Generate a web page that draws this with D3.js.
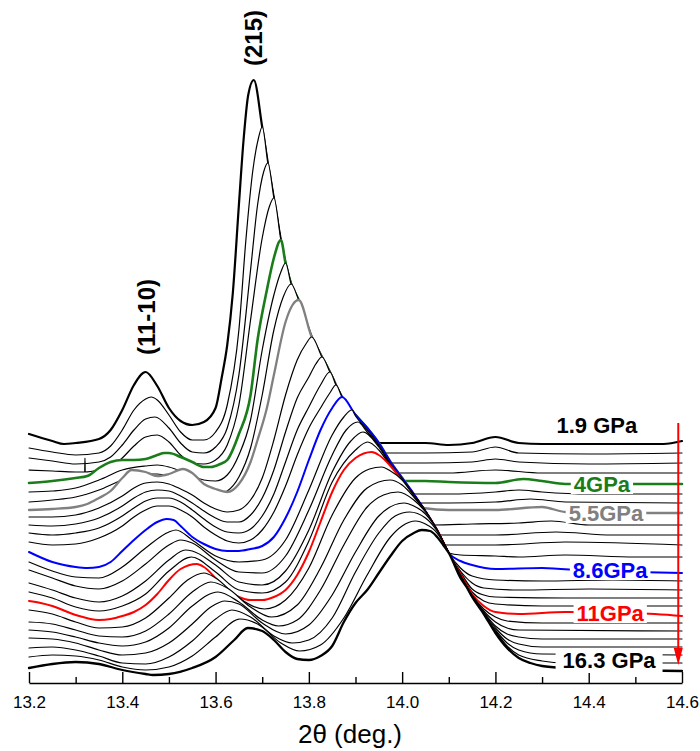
<!DOCTYPE html>
<html><head><meta charset="utf-8">
<script src="https://cdn.jsdelivr.net/npm/d3@7"></script>
<style>body{margin:0;background:#fff;} svg{display:block;} text{font-family:"Liberation Sans", Arial, sans-serif;}</style>
</head><body>
<svg id="chart" width="700" height="751"></svg>
<script>
// ---- axis ticks ----
const majorTicks = [13.2, 13.4, 13.6, 13.8, 14.0, 14.2, 14.4, 14.6];
const tickLabels = ["13.2", "13.4", "13.6", "13.8", "14.0", "14.2", "14.4", "14.6"];
const minorTicks = [13.3, 13.5, 13.7, 13.9, 14.1, 14.3, 14.5];

// ---- shared right flank of the (215) peak (2theta, stacked intensity a.u.) ----
const flank = [[13.682,603],[13.700,556],[13.712,520],[13.725,485],[13.740,443],[13.750,420],[13.762,399],[13.778,383],[13.806,346],[13.828,326],[13.845,311],[13.858,298],[13.871,286],[13.900,268],[13.925,255],[13.950,240],[13.975,221],[14.000,205],[14.025,189],[14.050,172],[14.075,153],[14.100,130]];

// ---- upper patterns: left part (up to their peak) and right tail ----
const c0Left = [[13.200,249],[13.250,242],[13.275,239],[13.300,240],[13.350,244],[13.375,253],[13.400,273],[13.425,298],[13.450,311],[13.475,297],[13.500,275],[13.525,262],[13.550,258],[13.575,261],[13.600,275],[13.613,305],[13.625,338],[13.637,390],[13.650,478],[13.660,543],[13.670,588],[13.682,603]];
const c0Tail = [[13.955,240],[14.050,240],[14.100,238],[14.150,240],[14.200,246],[14.250,240],[14.300,239],[14.400,239],[14.500,239],[14.560,239],[14.600,242]];
const c1Left = [[13.200,235],[13.250,231],[13.300,228],[13.350,230],[13.375,237],[13.400,253],[13.425,273],[13.450,284],[13.462,286],[13.475,283],[13.500,268],[13.525,251],[13.550,243],[13.575,243],[13.600,251],[13.625,278],[13.650,353],[13.665,443],[13.680,513],[13.692,545],[13.700,556]];
const c1Tail = [[13.963,230],[14.050,230],[14.150,231],[14.200,236],[14.250,230],[14.400,229],[14.600,230]];
const c2Left = [[13.200,225],[13.250,222],[13.300,219],[13.350,221],[13.375,226],[13.400,238],[13.425,253],[13.450,264],[13.470,266],[13.500,255],[13.525,240],[13.550,231],[13.575,230],[13.600,236],[13.625,255],[13.650,308],[13.675,413],[13.690,478],[13.703,511],[13.712,520]];
const c2Tail = [[13.980,220],[14.050,220],[14.150,221],[14.200,224],[14.250,221],[14.400,219],[14.600,220]];
const c3Left = [[13.200,213],[13.250,212],[13.300,211],[13.3195,211],[13.3200,225],[13.3205,211],[13.350,213],[13.375,216],[13.400,225],[13.425,237],[13.450,246],[13.475,248],[13.500,241],[13.525,228],[13.550,220],[13.575,219],[13.600,223],[13.625,238],[13.650,278],[13.675,363],[13.700,445],[13.715,476],[13.725,485]];
const c3Tail = [[13.992,210],[14.100,210],[14.200,213],[14.300,210],[14.600,210]];
const c4Left = [[13.200,200],[13.250,202],[13.300,205],[13.325,207],[13.350,215],[13.375,221],[13.400,223],[13.425,223],[13.450,224],[13.475,228],[13.490,230],[13.500,230],[13.525,226],[13.550,221],[13.575,216],[13.590,216],[13.610,219],[13.625,223],[13.650,249],[13.675,288],[13.690,343],[13.710,393],[13.725,425],[13.740,443]];
const c4Tail = [[14.005,202],[14.050,202],[14.100,201],[14.200,200],[14.260,204],[14.300,202],[14.350,199],[14.600,199]];
const c5Left = [[13.200,191],[13.250,192],[13.300,195],[13.350,203],[13.400,213],[13.450,217],[13.475,218],[13.500,216],[13.525,212],[13.550,207],[13.575,203],[13.600,202],[13.625,208],[13.650,228],[13.675,263],[13.700,333],[13.725,388],[13.740,411],[13.750,420]];
const c5Tail = [[14.030,189],[14.100,189],[14.200,191],[14.250,193],[14.300,191],[14.400,189],[14.600,189]];
const c6Left = [[13.200,181],[13.250,183],[13.300,186],[13.350,193],[13.400,203],[13.450,209],[13.475,209],[13.500,206],[13.525,201],[13.550,195],[13.575,190],[13.600,188],[13.625,192],[13.650,206],[13.675,235],[13.700,288],[13.725,353],[13.745,386],[13.762,399]];
const c6Tail = [[14.040,180],[14.100,180],[14.200,181],[14.275,184],[14.350,181],[14.600,180]];
const c7Left = [[13.200,173],[13.250,174],[13.300,176],[13.325,179],[13.350,185],[13.375,192],[13.400,205],[13.420,213],[13.450,211],[13.475,207],[13.500,209],[13.530,214],[13.550,210],[13.575,199],[13.600,194],[13.625,191],[13.650,199],[13.675,221],[13.690,243],[13.710,275],[13.725,308],[13.750,361],[13.765,378],[13.778,383]];
const c7Tail = [[14.045,175],[14.100,173],[14.200,173],[14.300,176],[14.350,171],[14.450,170],[14.600,170]];
const c8Left = [[13.200,166],[13.250,166],[13.300,168],[13.350,175],[13.400,187],[13.425,195],[13.450,200],[13.475,201],[13.500,199],[13.525,194],[13.550,188],[13.575,180],[13.600,174],[13.625,171],[13.650,173],[13.675,183],[13.700,205],[13.725,243],[13.750,288],[13.775,323],[13.795,340],[13.806,346]];
const c8Tail = [[14.068,158],[14.150,159],[14.250,160],[14.320,162],[14.400,158],[14.600,158]];
const c9Left = [[13.200,158],[13.250,157],[13.300,159],[13.350,165],[13.400,177],[13.425,185],[13.450,191],[13.475,193],[13.500,192],[13.525,187],[13.550,180],[13.575,172],[13.600,165],[13.625,161],[13.650,161],[13.675,168],[13.700,185],[13.725,213],[13.750,251],[13.775,285],[13.800,306],[13.815,319],[13.828,326]];
const c9Tail = [[14.081,148],[14.200,148],[14.330,151],[14.450,148],[14.600,148]];
const c10Left = [[13.200,150],[13.250,148],[13.300,150],[13.350,155],[13.400,167],[13.425,175],[13.450,182],[13.475,185],[13.500,185],[13.525,181],[13.550,173],[13.575,164],[13.600,156],[13.625,151],[13.650,150],[13.675,154],[13.700,167],[13.725,189],[13.750,221],[13.775,253],[13.800,276],[13.825,298],[13.845,311]];
const c10Tail = [[14.092,138],[14.200,138],[14.350,141],[14.600,138]];
const c11Left = [[13.200,141],[13.250,138],[13.300,139],[13.350,145],[13.400,157],[13.425,166],[13.450,173],[13.475,177],[13.500,177],[13.525,173],[13.550,166],[13.575,156],[13.600,148],[13.625,142],[13.650,140],[13.675,143],[13.700,153],[13.725,171],[13.750,197],[13.775,228],[13.800,255],[13.825,275],[13.845,290],[13.858,298]];
const c11Tail = [[14.125,128],[14.200,127],[14.250,126],[14.350,128],[14.500,126],[14.600,126]];
const c12Left = [[13.200,131],[13.250,121],[13.275,118],[13.300,116],[13.325,115],[13.350,116],[13.375,121],[13.400,132],[13.425,143],[13.450,153],[13.475,161],[13.495,164],[13.510,163],[13.525,157],[13.550,146],[13.575,139],[13.600,134],[13.625,132],[13.650,132],[13.675,134],[13.700,137],[13.725,146],[13.750,165],[13.775,191],[13.800,223],[13.825,253],[13.850,275],[13.871,286]];
const c12Tail = [[14.125,122],[14.150,118],[14.200,114],[14.300,115],[14.400,112],[14.500,111],[14.600,110]];

// ---- lower patterns (complete) ----
const c13 = [[13.200,121],[13.250,112],[13.300,106],[13.350,105],[13.400,116],[13.450,135],[13.500,151],[13.515,153],[13.550,143],[13.600,127],[13.650,121],[13.700,123],[13.750,143],[13.800,193],[13.850,248],[13.875,266],[13.892,273],[13.900,267],[13.925,253],[13.950,238],[13.975,219],[14.000,204],[14.025,188],[14.050,172],[14.075,153],[14.100,130],[14.125,115],[14.150,107],[14.200,103],[14.300,102],[14.450,103],[14.600,102]];
const c14 = [[13.200,113],[13.250,105],[13.300,97],[13.350,94],[13.400,102],[13.450,119],[13.500,138],[13.525,143],[13.550,140],[13.600,123],[13.650,111],[13.700,110],[13.750,127],[13.800,173],[13.850,228],[13.880,253],[13.905,261],[13.925,251],[13.950,237],[13.975,218],[14.000,204],[14.025,188],[14.050,172],[14.075,153],[14.100,130],[14.125,112],[14.150,100],[14.175,95],[14.250,93],[14.400,94],[14.600,93]];
const c15 = [[13.200,100],[13.250,93],[13.300,85],[13.350,81],[13.400,87],[13.450,102],[13.500,123],[13.535,133],[13.550,132],[13.600,118],[13.650,101],[13.700,98],[13.750,112],[13.800,153],[13.850,211],[13.890,242],[13.916,251],[13.950,236],[13.975,218],[14.000,203],[14.025,188],[14.050,172],[14.075,153],[14.100,130],[14.125,111],[14.150,94],[14.175,88],[14.200,86],[14.350,85],[14.600,85]];
const c16 = [[13.200,91],[13.250,85],[13.300,76],[13.350,72],[13.400,77],[13.450,89],[13.500,112],[13.548,126],[13.600,111],[13.650,93],[13.700,90],[13.750,101],[13.800,142],[13.850,201],[13.900,233],[13.926,241],[13.950,233],[13.975,217],[14.000,203],[14.025,187],[14.050,172],[14.075,153],[14.100,130],[14.125,110],[14.150,91],[14.175,82],[14.200,79],[14.300,77],[14.600,77]];
const c17 = [[13.200,82],[13.225,80],[13.250,77],[13.300,68],[13.350,63],[13.375,64],[13.400,67],[13.425,71],[13.450,78],[13.475,89],[13.500,103],[13.525,114],[13.560,119],[13.575,116],[13.600,105],[13.625,93],[13.650,86],[13.675,83],[13.700,83],[13.725,86],[13.750,93],[13.775,108],[13.800,131],[13.825,161],[13.850,191],[13.875,213],[13.900,225],[13.935,231],[13.950,228],[13.975,217],[14.000,202],[14.025,186],[14.050,171],[14.075,153],[14.100,130],[14.125,109],[14.150,89],[14.175,77],[14.200,71],[14.250,69],[14.350,71],[14.500,70],[14.600,67]];
const c18 = [[13.200,73],[13.250,69],[13.300,61],[13.350,55],[13.400,56],[13.450,65],[13.500,85],[13.540,103],[13.575,110],[13.600,105],[13.650,85],[13.705,74],[13.750,83],[13.800,115],[13.850,168],[13.900,205],[13.930,214],[13.956,216],[13.975,212],[14.000,203],[14.025,187],[14.050,172],[14.075,153],[14.100,130],[14.125,108],[14.150,88],[14.175,74],[14.200,66],[14.225,62],[14.300,60],[14.600,60]];
const c19 = [[13.200,61],[13.250,59],[13.300,53],[13.350,47],[13.400,46],[13.450,52],[13.500,69],[13.550,91],[13.590,101],[13.625,95],[13.675,76],[13.720,66],[13.775,78],[13.825,115],[13.875,163],[13.925,195],[13.974,203],[14.000,198],[14.025,186],[14.050,171],[14.075,153],[14.100,130],[14.125,108],[14.150,87],[14.175,72],[14.200,61],[14.225,55],[14.250,53],[14.600,52]];
const c20 = [[13.200,53],[13.250,51],[13.300,46],[13.350,40],[13.400,37],[13.450,41],[13.500,55],[13.550,77],[13.605,91],[13.650,81],[13.700,63],[13.735,57],[13.775,63],[13.825,93],[13.875,138],[13.925,176],[13.960,188],[13.991,191],[14.025,183],[14.050,171],[14.075,153],[14.100,130],[14.125,107],[14.150,87],[14.175,71],[14.200,57],[14.225,49],[14.250,46],[14.300,44],[14.600,44]];
const c21 = [[13.200,45],[13.250,44],[13.300,40],[13.350,33],[13.400,28],[13.450,30],[13.500,40],[13.550,59],[13.590,76],[13.620,82],[13.650,79],[13.700,60],[13.750,49],[13.800,58],[13.850,88],[13.900,131],[13.950,167],[14.004,180],[14.025,177],[14.050,169],[14.075,153],[14.100,130],[14.125,107],[14.150,87],[14.175,70],[14.200,55],[14.225,44],[14.250,39],[14.300,36],[14.600,36]];
const c22 = [[13.200,35],[13.250,36],[13.300,33],[13.350,27],[13.400,20],[13.450,19],[13.500,26],[13.550,42],[13.600,64],[13.635,73],[13.675,66],[13.725,47],[13.765,40],[13.800,43],[13.850,65],[13.900,111],[13.950,150],[13.985,167],[14.016,171],[14.050,165],[14.075,152],[14.100,130],[14.125,107],[14.150,86],[14.175,69],[14.200,53],[14.225,40],[14.250,33],[14.300,29],[14.600,28]];
const c23 = [[13.200,26],[13.250,28],[13.300,27],[13.350,23],[13.400,16],[13.450,13],[13.500,16],[13.550,27],[13.600,46],[13.652,64],[13.690,59],[13.740,40],[13.780,32],[13.825,38],[13.875,65],[13.925,108],[13.975,146],[14.000,157],[14.029,162],[14.050,159],[14.075,150],[14.100,130],[14.125,106],[14.150,86],[14.175,69],[14.200,52],[14.225,37],[14.250,28],[14.300,22],[14.350,20],[14.600,20]];
const c24 = [[13.200,15],[13.250,19],[13.300,21],[13.350,19],[13.400,13],[13.450,9],[13.466,8],[13.500,9],[13.550,15],[13.600,26],[13.640,43],[13.669,55],[13.700,52],[13.725,43],[13.750,31],[13.775,24],[13.800,23],[13.825,27],[13.850,37],[13.875,61],[13.900,80],[13.925,93],[13.950,110],[13.975,127],[14.000,142],[14.025,150],[14.042,153],[14.060,152],[14.075,146],[14.088,138],[14.100,130],[14.125,105],[14.138,96],[14.150,86],[14.175,69],[14.200,50],[14.225,35],[14.250,25],[14.275,20],[14.300,17],[14.350,15],[14.600,12]];

// pressure labels: curve index, text
const labelCurve = [0, 4, 7, 12, 17, 24];
const labelText = ["1.9 GPa", "4GPa", "5.5GPa", "8.6GPa", "11GPa", "16.3 GPa"];
const peakNames = ["(11-10)", "(215)"];

// ---- assemble ----
function withFlank(left, tail) {
  const a = left[left.length - 1][0], b = tail[0][0];
  return left.concat(flank.filter(p => p[0] > a && p[0] < b), tail);
}
const curves = [
  withFlank(c0Left, c0Tail), withFlank(c1Left, c1Tail), withFlank(c2Left, c2Tail),
  withFlank(c3Left, c3Tail), withFlank(c4Left, c4Tail), withFlank(c5Left, c5Tail),
  withFlank(c6Left, c6Tail), withFlank(c7Left, c7Tail), withFlank(c8Left, c8Tail),
  withFlank(c9Left, c9Tail), withFlank(c10Left, c10Tail), withFlank(c11Left, c11Tail),
  withFlank(c12Left, c12Tail),
  c13, c14, c15, c16, c17, c18, c19, c20, c21, c22, c23, c24
];

const styles = {
  0: {color: "#000000", width: 2.2},
  4: {color: "#1a7d1a", width: 2.6},
  7: {color: "#808080", width: 2.3},
  12: {color: "#0000ff", width: 2.0},
  17: {color: "#ff0000", width: 2.0},
  24: {color: "#000000", width: 2.3}
};

const svg = d3.select("#chart");
const x = d3.scaleLinear().domain([13.2, 14.6]).range([29, 682]);
const y = d3.scaleLinear().domain([0, 643]).range([683, 40]);

const line = d3.line().x(d => x(d[0])).y(d => y(d[1])).curve(d3.curveMonotoneX);
const area = d3.area().x(d => x(d[0])).y0(y(0)).y1(d => y(d[1])).curve(d3.curveMonotoneX);

const plot = svg.append("g");
curves.forEach((c, i) => {
  const st = styles[i] || {color: "#000000", width: 1.2};
  plot.append("path").attr("d", area(c)).attr("fill", "#ffffff");
  plot.append("path").attr("d", line(c)).attr("fill", "none")
    .attr("stroke", st.color).attr("stroke-width", st.width)
    .attr("stroke-linejoin", "round").attr("stroke-linecap", "round");
});

// axis
const ax = svg.append("g").attr("transform", `translate(0,${y(0)})`)
  .call(d3.axisBottom(x).tickValues(majorTicks).tickFormat((d, i) => tickLabels[i])
    .tickSizeInner(-11).tickSizeOuter(0).tickPadding(13));
ax.select(".domain").attr("stroke-width", 1.6);
ax.selectAll(".tick line").attr("stroke-width", 1.4);
ax.selectAll(".tick text").attr("font-size", 17).attr("font-family", "Liberation Sans, Arial, sans-serif").attr("fill", "#000");
const axm = svg.append("g").attr("transform", `translate(0,${y(0)})`)
  .call(d3.axisBottom(x).tickValues(minorTicks).tickFormat("").tickSizeInner(-6).tickSizeOuter(0));
axm.select(".domain").remove();
axm.selectAll(".tick line").attr("stroke-width", 1.4);

svg.append("text").attr("x", 350).attr("y", 743)
  .attr("text-anchor", "middle").attr("font-size", 26).text("2\u03b8 (deg.)");

// peak labels
const peakPos = [[13.451, 366], [13.682, 645]];
peakNames.forEach((t, i) => {
  const px = x(peakPos[i][0]), py = y(peakPos[i][1]);
  svg.append("text").attr("transform", `translate(${px},${py}) rotate(-90)`)
    .attr("text-anchor", "middle").attr("dy", "0.36em")
    .attr("font-size", 24).attr("font-weight", "bold").text(t);
});

// pressure labels with white boxes
const labelPos = [[14.331, 250], [14.368, 191], [14.357, 162], [14.366, 105], [14.374, 62], [14.344, 15]];
labelText.forEach((t, i) => {
  const st = styles[labelCurve[i]];
  const g = svg.append("g");
  const px = x(labelPos[i][0]), py = y(labelPos[i][1]);
  const txt = g.append("text").attr("x", px).attr("y", py)
    .attr("font-size", 22).attr("font-weight", "bold").attr("fill", st.color).text(t);
  const w = txt.node().getComputedTextLength();
  const pad = i === 5 ? 7 : 3;
  const top = i === 5 ? 20 : 17, bot = i === 5 ? 5 : 2;
  g.insert("rect", "text").attr("x", px - pad).attr("y", py - top)
    .attr("width", w + 2 * pad).attr("height", top + bot).attr("fill", "#fff");
});

// red arrow
const ax0 = x(14.592), ay0 = y(260), ay1 = y(18);
svg.append("line").attr("x1", ax0).attr("x2", ax0).attr("y1", ay0).attr("y2", ay1 - 12)
  .attr("stroke", "#ff0000").attr("stroke-width", 2);
svg.append("path").attr("d", `M${ax0},${ay1} L${ax0 - 4.5},${ay1 - 17} L${ax0 + 4.5},${ay1 - 17} Z`)
  .attr("fill", "#ff0000");
</script>
</body></html>
